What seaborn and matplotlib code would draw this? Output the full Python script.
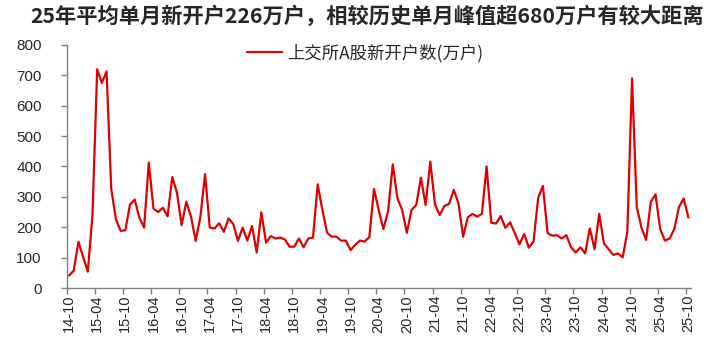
import matplotlib
matplotlib.use("Agg")
import matplotlib.pyplot as plt
import seaborn as sns
import pandas as pd
import numpy as np

# monthly new accounts (万户), 2014-10 .. 2025-10
months = [p.strftime("%y-%m") for p in pd.period_range("2014-10", "2025-10", freq="M")]
values = [
    41, 57, 152, 103, 54, 240, 720, 675, 713, 326, 226, 188,
    190, 275, 291, 231, 199, 413, 261, 250, 264, 236, 365, 314,
    207, 284, 235, 155, 235, 375, 199, 196, 213, 185, 229, 211,
    155, 199, 156, 204, 117, 249, 149, 171, 163, 166, 160, 136,
    136, 163, 134, 163, 166, 341, 257, 182, 169, 169, 156, 156,
    125, 142, 156, 153, 167, 326, 257, 194, 252, 407, 295, 257,
    182, 257, 273, 363, 273, 416, 275, 240, 270, 277, 323, 279,
    169, 233, 244, 235, 244, 400, 215, 212, 237, 198, 216, 181,
    144, 178, 133, 153, 297, 336, 181, 172, 174, 163, 174, 134,
    117, 134, 114, 196, 128, 244, 147, 128, 109, 114, 101, 185,
    690, 268, 199, 158, 284, 308, 194, 156, 163, 194, 266, 295,
    232,
]
series_name = "上交所A股新开户数(万户)"
title = "25年平均单月新开户226万户，相较历史单月峰值超680万户有较大距离"
yticks = [0, 100, 200, 300, 400, 500, 600, 700, 800]

df = pd.DataFrame({"idx": np.arange(len(values)), "month": months, "value": values})

sns.set_theme(style="ticks")
plt.rcParams["font.family"] = ["Liberation Sans", "Noto Sans CJK SC", "DejaVu Sans"]

fig = plt.figure(figsize=(7.2, 3.54), dpi=100)
ax = fig.add_axes([0.0926, 0.1864, 0.8667, 0.6866])

sns.lineplot(data=df, x="idx", y="value", color="#E00000", linewidth=1.6,
             label=series_name, ax=ax)

n = len(values)
ax.set_xlim(-0.5, n - 0.5)
ax.set_ylim(0, 800)
ax.set_yticks(yticks)
ax.set_yticklabels([str(v) for v in yticks], fontsize=11)

lab_idx = list(range(0, n, 6))
ax.set_xticks(lab_idx)
ax.set_xticklabels([months[i] for i in lab_idx], rotation=90, fontsize=10.5)
ax.tick_params(axis="x", length=0, pad=5)
ax.set_xticks([i - 0.5 for i in lab_idx], minor=True)
ax.tick_params(axis="x", which="minor", length=4, width=1, color="#808080")
ax.tick_params(axis="y", length=4, width=1, color="#808080", pad=14)

for s in ["top", "right"]:
    ax.spines[s].set_visible(False)
for s in ["left", "bottom"]:
    ax.spines[s].set_color("#808080")
    ax.spines[s].set_linewidth(1)

ax.set_xlabel("")
ax.set_ylabel("")

leg = ax.legend(loc="upper center", bbox_to_anchor=(0.478, 1.07), frameon=False,
                prop={"family": ["Noto Sans CJK SC"], "size": 12.5},
                handlelength=2.0, handletextpad=0.3)

fig.text(0.51, 0.955, title, ha="center", va="center", fontsize=15.3,
         fontweight="bold", family=["Noto Sans CJK SC", "DejaVu Sans"])

fig.savefig("out.png", dpi=100)
